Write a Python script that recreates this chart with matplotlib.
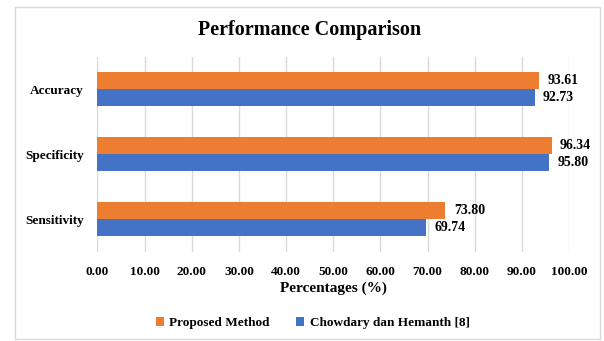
import matplotlib
matplotlib.use("Agg")
import matplotlib.pyplot as plt
from matplotlib.patches import Rectangle
import numpy as np

categories = ["Accuracy", "Specificity", "Sensitivity"]
proposed = [93.61, 96.34, 73.80]
chowdary = [92.73, 95.80, 69.74]
series_names = ["Proposed Method", "Chowdary dan Hemanth [8]"]
xticks = [0, 10, 20, 30, 40, 50, 60, 70, 80, 90, 100]

plt.rcParams['font.family'] = ['Liberation Serif', 'DejaVu Serif']
plt.rcParams['font.weight'] = 'bold'

fig = plt.figure(figsize=(6.04, 3.41), dpi=100)
fig.patches.append(Rectangle((14.5/604, 2/341), (600-14.5)/604, 332/341,
                             transform=fig.transFigure, fill=False,
                             edgecolor='#D9D9D9', linewidth=1.0))
ax = fig.add_axes([0.1614, 0.2619, 0.7806, 0.5718])

orange = '#ED7D31'
blue = '#4472C4'
y = np.arange(len(categories))
h = 0.265
b1 = ax.barh(y - h/2, proposed, height=h, color=orange, label=series_names[0], zorder=3)
b2 = ax.barh(y + h/2, chowdary, height=h, color=blue, label=series_names[1], zorder=3)

for bars, vals in ((b1, proposed), (b2, chowdary)):
    for bar, v in zip(bars, vals):
        ax.annotate(f"{v:.2f}", (v, bar.get_y() + bar.get_height()/2),
                    xytext=(6, 0), textcoords='offset points',
                    va='center', ha='left', fontsize=10, fontweight='bold')

ax.set_xlim(0, 100)
ax.set_ylim(2.5, -0.5)
ax.set_yticks(y)
ax.set_yticklabels(categories, fontsize=9.5, fontweight='bold')
ax.set_xticks(xticks)
ax.set_xticklabels([f"{t:.2f}" for t in xticks], fontsize=9.5, fontweight='bold')
ax.tick_params(axis='x', length=0, pad=10)
ax.tick_params(axis='y', length=0, pad=10)
for s in ax.spines.values():
    s.set_visible(False)
ax.grid(axis='x', color='#D9D9D9', linewidth=1.0, zorder=0)
ax.set_xlabel("Percentages (%)", fontsize=11, fontweight='bold', labelpad=3)

fig.text(0.513, 1 - 30/341, "Performance Comparison", ha='center', va='center',
         fontsize=14.5, fontweight='bold')

fig.legend(handles=[b1, b2], loc='center', bbox_to_anchor=(0.518, 1 - 323/341),
           ncol=2, frameon=False, handlelength=0.6, handleheight=0.6,
           handletextpad=0.4, columnspacing=2.0, prop={'weight': 'bold', 'size': 9.5})

fig.savefig("out.png", dpi=100)
